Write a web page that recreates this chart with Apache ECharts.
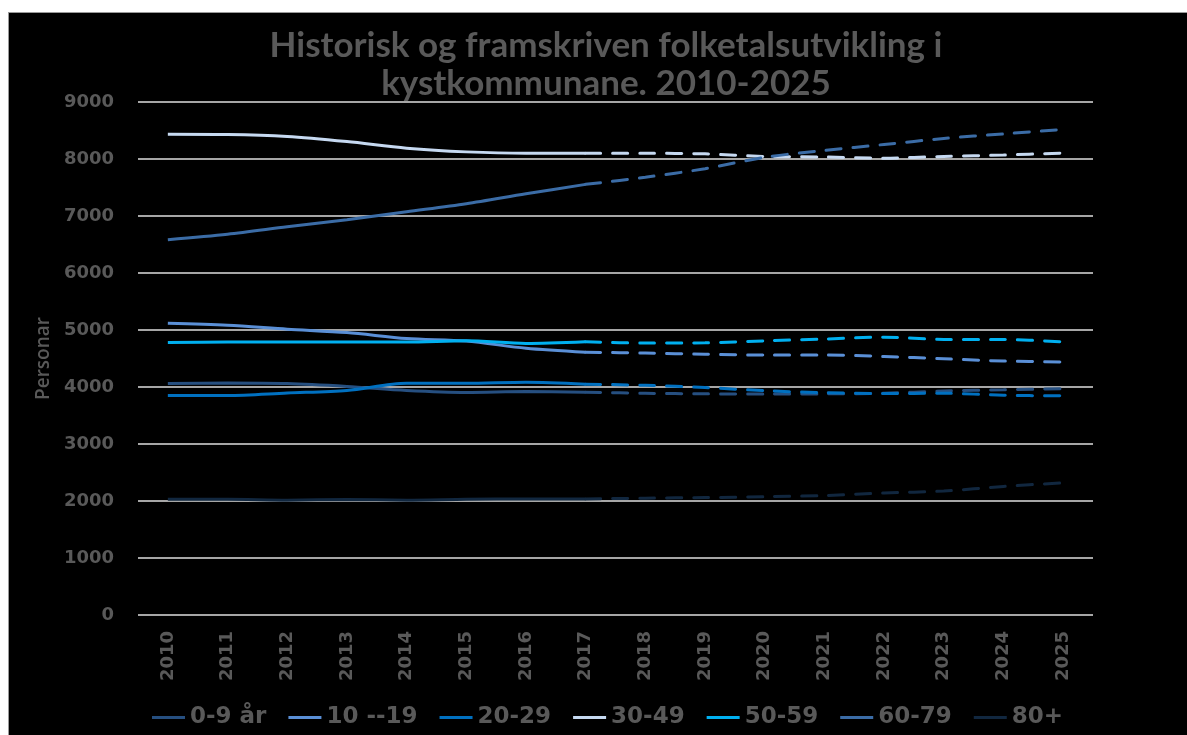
<!DOCTYPE html>
<html>
<head>
<meta charset="utf-8">
<script src="https://cdn.jsdelivr.net/npm/echarts@6/dist/echarts.min.js"></script>
<style>
  html, body { margin: 0; padding: 0; background: #fff; }
  #chart {
    position: absolute; left: 8px; top: 12px;
    width: 1179px; height: 723px;
    background: #000;
    border-left: 1px solid #9a9a9a; border-top: 1px solid #9a9a9a;
    box-sizing: border-box;
  }
</style>
</head>
<body>
<div id="chart"></div>
<script>
// years on the x axis
const years = ['2010', '2011', '2012', '2013', '2014', '2015', '2016', '2017',
  '2018', '2019', '2020', '2021', '2022', '2023', '2024', '2025']

const ageGroups = ['0-9 år', '10 --19', '20-29', '30-49', '50-59', '60-79', '80+']
const colors = ['#264f80', '#5a8fd6', '#0070c0', '#c6d9f1', '#00b0f0', '#3b6ca6', '#11273f']

// historic values 2010-2017
const hist0_9 = [4060, 4070, 4060, 4010, 3940, 3905, 3920, 3910]
const hist10_19 = [5120, 5085, 5015, 4955, 4850, 4805, 4680, 4610]
const hist20_29 = [3850, 3850, 3895, 3940, 4065, 4065, 4085, 4050]
const hist30_49 = [8435, 8430, 8395, 8305, 8190, 8125, 8100, 8100]
const hist50_59 = [4780, 4790, 4790, 4790, 4790, 4810, 4765, 4795]
const hist60_79 = [6585, 6680, 6810, 6935, 7075, 7215, 7390, 7555]
const hist80 = [2030, 2030, 2015, 2025, 2015, 2030, 2035, 2035]

// projected values 2017-2025
const proj0_9 = [3910, 3890, 3880, 3875, 3880, 3890, 3930, 3950, 3970]
const proj10_19 = [4610, 4595, 4575, 4560, 4560, 4535, 4495, 4455, 4440]
const proj20_29 = [4050, 4030, 3990, 3935, 3900, 3885, 3890, 3855, 3845]
const proj30_49 = [8100, 8100, 8090, 8045, 8035, 8015, 8045, 8070, 8105]
const proj50_59 = [4795, 4770, 4775, 4810, 4840, 4875, 4835, 4835, 4790]
const proj60_79 = [7555, 7680, 7830, 8030, 8150, 8255, 8360, 8440, 8520]
const proj80 = [2035, 2050, 2060, 2075, 2095, 2140, 2175, 2255, 2320]

const historic = [hist0_9, hist10_19, hist20_29, hist30_49, hist50_59, hist60_79, hist80]
const projected = [proj0_9, proj10_19, proj20_29, proj30_49, proj50_59, proj60_79, proj80]

const textGray = '#595959'

function buildSeries() {
  const series = []
  ageGroups.forEach((name, i) => {
    series.push({
      name: name,
      type: 'line',
      smooth: 0.3,
      symbol: 'none',
      color: colors[i],
      lineStyle: { width: 3, color: colors[i] },
      data: historic[i].concat(new Array(years.length - historic[i].length).fill(null))
    })
  })
  ageGroups.forEach((name, i) => {
    series.push({
      name: name,
      type: 'line',
      smooth: 0.3,
      symbol: 'none',
      color: colors[i],
      lineStyle: { width: 3, color: colors[i], type: [15, 12], cap: 'round' },
      data: new Array(years.length - projected[i].length).fill(null).concat(projected[i])
    })
  })
  return series
}

const option = {
  backgroundColor: '#000',
  animation: false,
  title: {
    text: 'Historisk og framskriven folketalsutvikling i\nkystkommunane. 2010-2025',
    left: 592,
    top: 9,
    textAlign: 'center',
    textStyle: {
      color: textGray,
      fontFamily: 'Lato, sans-serif',
      fontWeight: 'bold',
      fontSize: 35,
      lineHeight: 38
    }
  },
  legend: {
    data: ageGroups,
    left: 138,
    top: 688,
    icon: 'rect',
    itemWidth: 33,
    itemHeight: 3,
    itemGap: 22,
    textStyle: {
      color: textGray,
      fontFamily: 'DejaVu Sans',
      fontWeight: 'bold',
      fontSize: 23
    }
  },
  grid: {
    left: 129,
    right: 94,
    top: 89,
    bottom: 120
  },
  xAxis: {
    type: 'category',
    data: years,
    boundaryGap: true,
    axisLine: { show: false },
    axisTick: { show: false },
    axisLabel: {
      rotate: 90,
      margin: 16,
      color: textGray,
      fontFamily: 'DejaVu Sans',
      fontWeight: 'bold',
      fontSize: 18
    }
  },
  yAxis: {
    type: 'value',
    min: 0,
    max: 9000,
    interval: 1000,
    name: 'Personar',
    nameLocation: 'middle',
    nameGap: 84,
    nameTextStyle: {
      color: textGray,
      fontFamily: 'Open Sans',
      fontWeight: 600,
      fontSize: 19
    },
    axisLine: { show: false },
    axisTick: { show: false },
    axisLabel: {
      margin: 24,
      color: textGray,
      fontFamily: 'DejaVu Sans',
      fontWeight: 'bold',
      fontSize: 18,
      formatter: (v) => String(v)
    },
    splitLine: { lineStyle: { color: '#a6a6a6', width: 2 } }
  },
  series: buildSeries()
}

const chart = echarts.init(document.getElementById('chart'))
chart.setOption(option)
</script>
</body>
</html>
